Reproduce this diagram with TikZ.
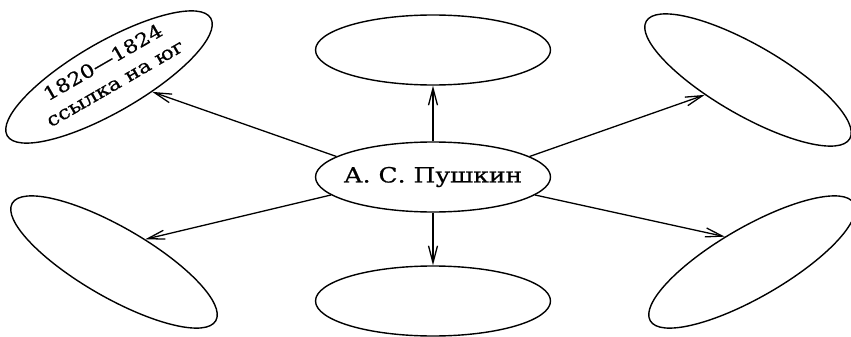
\documentclass[tikz,border=0pt]{standalone}
\usepackage{fontspec}
\setmainfont{DejaVu Serif}[FakeStretch=1.19,FakeBold=0.6]
\usetikzlibrary{shapes.geometric,arrows.meta}
\begin{document}
\begin{tikzpicture}[x=1pt,y=-1pt,
  ell/.style={draw, ellipse, line width=1.4pt, minimum width=235pt, minimum height=70pt, inner sep=0pt},
  arr/.style={line width=1.3pt, -{Straight Barb[length=17pt,width=9pt]}},
  lbl/.style={font=\fontsize{21}{24}\selectfont, align=center, inner sep=0pt},
  small/.style={font=\fontsize{18.5}{24}\selectfont, align=center, inner sep=0pt}]
\useasboundingbox (0,0) rectangle (851,337);
\node[ell] (c) at (433,177) {};
\node[lbl] (ct) at (c) {А. С. Пушкин};
\node[ell] (t) at (433,50) {};
\node[ell] (b) at (433,301) {};
\node[ell, rotate=30] (tl) at (109,77) {};
\node[ell, rotate=-30] (tr) at (748,80) {};
\node[ell, rotate=-30] (bl) at (114,262) {};
\node[ell, rotate=30] (br) at (752,262) {};
\node[small, rotate=30, yshift=4pt, xshift=2pt] (tlt) at (tl) {1820—1824\\ссылка на юг};
\draw[arr] (c.north) -- (t.south);
\draw[arr] (c.south) -- (b.north);
\draw[arr] (c.168) -- (tl.-49);
\draw[arr] (c.12) -- (tr.-131);
\draw[arr] (c.190) -- (bl.66);
\draw[arr] (c.-10) -- (br.107);
\end{tikzpicture}
\end{document}
